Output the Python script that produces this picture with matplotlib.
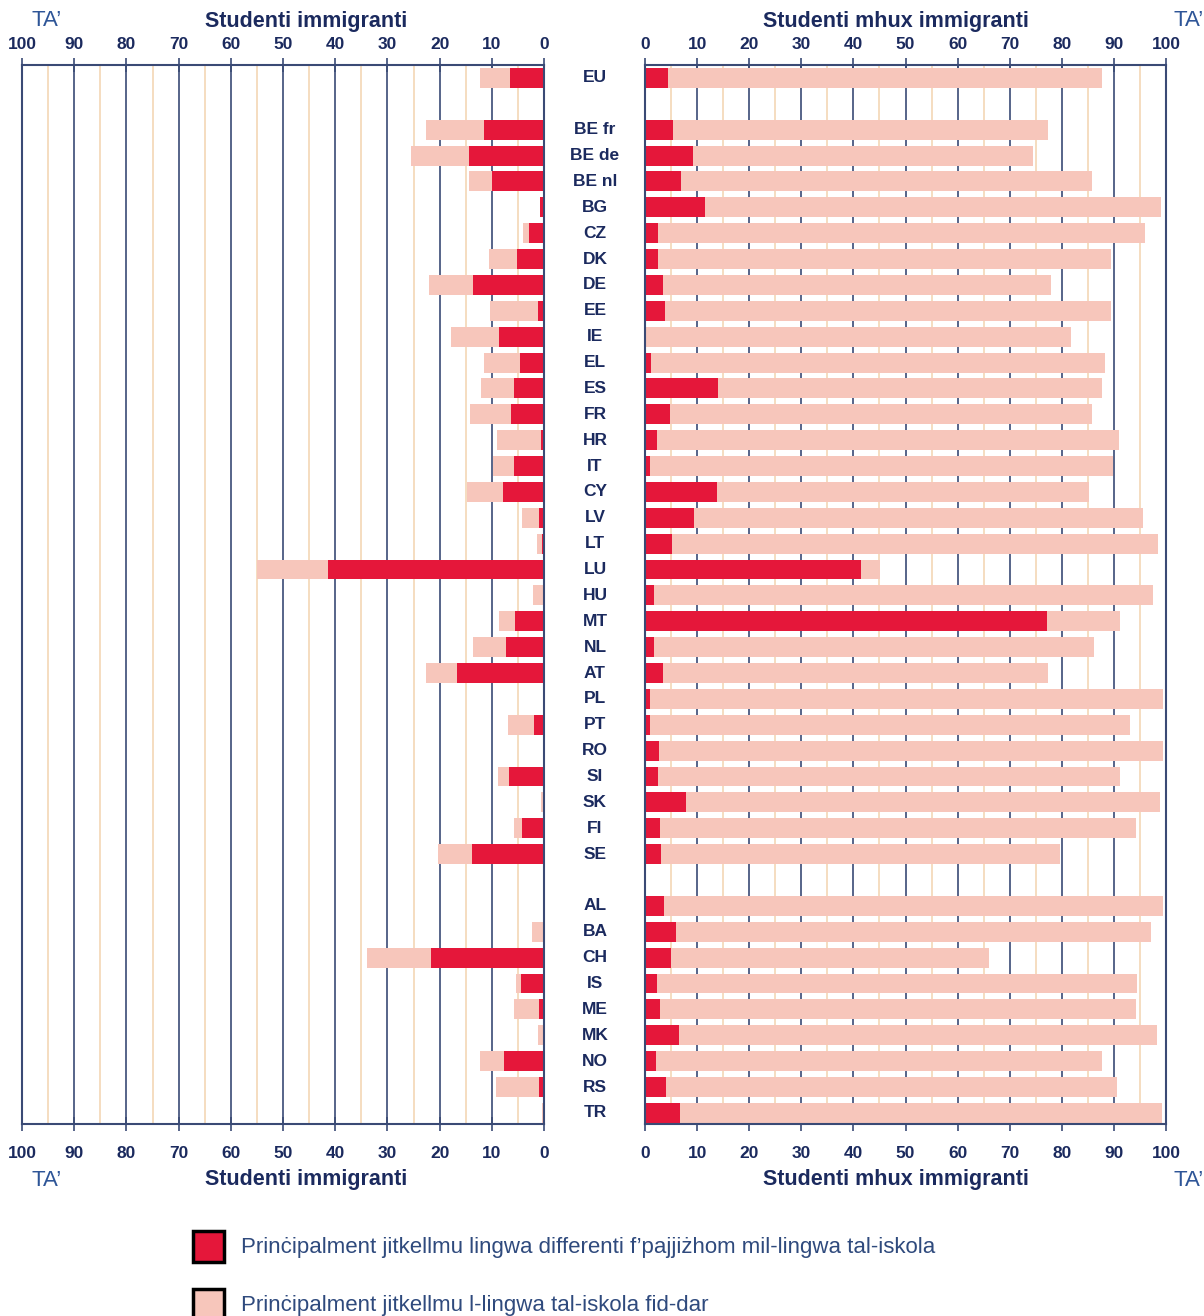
import numpy as np
import matplotlib
matplotlib.use("Agg")
import matplotlib.pyplot as plt
from matplotlib.patches import Rectangle
from matplotlib.transforms import blended_transform_factory

# ---------------- data ----------------
countries = ["EU", "BE fr", "BE de", "BE nl", "BG", "CZ", "DK", "DE", "EE", "IE", "EL", "ES",
             "FR", "HR", "IT", "CY", "LV", "LT", "LU", "HU", "MT", "NL", "AT", "PL", "PT",
             "RO", "SI", "SK", "FI", "SE", "AL", "BA", "CH", "IS", "ME", "MK", "NO", "RS", "TR"]

# immigrant students (left panel)
imm_other = [6.5, 11.5, 14.4, 10.0, 0.8, 2.9, 5.2, 13.6, 1.1, 8.6, 4.6, 5.7,
             6.3, 0.6, 5.7, 7.9, 1.0, 0.3, 41.4, 0.0, 5.6, 7.3, 16.7, 0.0, 1.9,
             0.0, 6.7, 0.0, 4.2, 13.8, 0.0, 0.0, 21.6, 4.4, 1.0, 0.0, 7.7, 1.0, 0.0]
imm_school = [5.8, 11.1, 11.1, 4.4, 0.0, 1.1, 5.3, 8.4, 9.2, 9.2, 6.9, 6.3,
              7.9, 8.4, 4.1, 6.9, 3.2, 1.0, 13.6, 2.1, 3.0, 6.3, 5.9, 0.0, 5.0,
              0.0, 2.1, 0.6, 1.5, 6.5, 0.0, 2.3, 12.3, 1.0, 4.7, 1.1, 4.6, 8.2, 0.4]

# non-immigrant students (right panel)
non_other = [4.4, 5.4, 9.2, 6.9, 11.5, 2.5, 2.5, 3.5, 3.8, 0.0, 1.2, 14.0,
             4.8, 2.3, 1.0, 13.8, 9.4, 5.2, 41.5, 1.7, 77.2, 1.7, 3.5, 1.0, 1.0,
             2.7, 2.5, 7.9, 2.9, 3.1, 3.6, 5.9, 5.0, 2.3, 2.9, 6.5, 2.1, 4.0, 6.7]
non_school = [83.3, 72.0, 65.3, 78.9, 87.5, 93.5, 86.9, 74.4, 85.6, 81.8, 87.1, 73.7,
              81.0, 88.7, 88.8, 71.4, 86.2, 93.3, 3.6, 95.8, 14.0, 84.5, 73.9, 98.4, 92.1,
              96.7, 88.7, 90.9, 91.3, 76.6, 95.8, 91.2, 61.0, 92.1, 91.3, 91.8, 85.6, 86.6, 92.5]

ticks = [0, 10, 20, 30, 40, 50, 60, 70, 80, 90, 100]
minor_ticks = [5, 15, 25, 35, 45, 55, 65, 75, 85, 95]

series_names = ["Prinċipalment jitkellmu lingwa differenti f’pajjiżhom mil-lingwa tal-iskola",
                "Prinċipalment jitkellmu l-lingwa tal-iskola fid-dar"]
title_left = "Studenti immigranti"
title_right = "Studenti mhux immigranti"
unit_label = "TA’"

# ---------------- style ----------------
RED = "#E5173A"
PINK = "#F7C6BB"
NAVY = "#1B2A5E"
GRID_DARK = "#3A4A75"
GRID_LIGHT = "#F3D7B5"
BLUE_TXT = "#2E5597"
LEG_TXT = "#2F4A7D"
NARROW = ["Liberation Sans Narrow", "Liberation Sans", "DejaVu Sans"]
SANS = ["Liberation Sans", "DejaVu Sans"]

# positions: blank row after EU and after SE
pos = []
y = 0
for i, c in enumerate(countries):
    pos.append(y)
    y += 1
    if c in ("EU", "SE"):
        y += 1
pos = np.array(pos, dtype=float)
n_rows = pos[-1]

W, H = 1204, 1316
fig = plt.figure(figsize=(W / 100, H / 100), dpi=100)

def fx(px):
    return px / W

def fy(py):
    return 1 - py / H

ax_top, ax_bot = 65, 1124
axL = fig.add_axes([fx(22), fy(ax_bot), fx(544 - 22), (ax_bot - ax_top) / H])
axR = fig.add_axes([fx(645), fy(ax_bot), fx(1166 - 645), (ax_bot - ax_top) / H])

bar_h = 0.77
for ax, other, school, inverted in ((axL, imm_other, imm_school, True),
                                    (axR, non_other, non_school, False)):
    other = np.array(other)
    school = np.array(school)
    for t in ticks[1:-1]:
        ax.axvline(t, color=GRID_DARK, lw=1.2, zorder=0)
    for t in minor_ticks:
        ax.axvline(t, color=GRID_LIGHT, lw=1.2, zorder=0)
    ax.barh(pos, other, height=bar_h, color=RED, zorder=2, linewidth=0)
    ax.barh(pos, school, left=other, height=bar_h, color=PINK, zorder=2, linewidth=0)
    ax.set_ylim(n_rows + 0.43, -0.5)
    if inverted:
        ax.set_xlim(100, 0)
    else:
        ax.set_xlim(0, 100)
    ax.set_yticks([])
    for s in ax.spines.values():
        s.set_color(GRID_DARK)
        s.set_linewidth(1.5)
    ax.set_xticks(ticks)
    ax.set_xticklabels([str(t) for t in ticks])
    ax.tick_params(axis="x", direction="inout", length=10, width=1.2, color=GRID_DARK,
                   pad=11, labelsize=12.5, labelcolor=NAVY)
    for lab in ax.get_xticklabels():
        lab.set_fontweight("bold")
        lab.set_family(NARROW)
    sec = ax.secondary_xaxis("top")
    sec.set_xticks(ticks)
    sec.set_xticklabels([str(t) for t in ticks])
    sec.tick_params(axis="x", direction="inout", length=10, width=1.2, color=GRID_DARK,
                    pad=4, labelsize=12.5, labelcolor=NAVY)
    sec.spines["top"].set_visible(False)
    for lab in sec.get_xticklabels():
        lab.set_fontweight("bold")
        lab.set_family(NARROW)

# country labels between panels
tr = blended_transform_factory(fig.transFigure, axR.transData)
for c, p in zip(countries, pos):
    fig.text(fx(595), p, c, transform=tr, ha="center", va="center", fontsize=12.5,
             fontweight="bold", color=NAVY, family=NARROW)

# titles
for yy in (21, 1180):
    fig.text(fx(306), fy(yy), title_left, ha="center", va="center", fontsize=15.5,
             fontweight="bold", color=NAVY, family=SANS)
    fig.text(fx(896), fy(yy), title_right, ha="center", va="center", fontsize=15.5,
             fontweight="bold", color=NAVY, family=SANS)
    fig.text(fx(47), fy(yy), unit_label, ha="center", va="center", fontsize=16,
             color=BLUE_TXT, family=SANS)
    fig.text(fx(1173), fy(yy), unit_label, ha="left", va="center", fontsize=16,
             color=BLUE_TXT, family=SANS)

# legend
for (top_px, col, name) in ((1231, RED, series_names[0]), (1289, PINK, series_names[1])):
    fig.add_artist(Rectangle((fx(193), fy(top_px + 31)), fx(31), 31 / H,
                             transform=fig.transFigure, facecolor=col,
                             edgecolor="black", linewidth=2.5, clip_on=False))
    fig.text(fx(241), fy(top_px + 16), name, ha="left", va="center", fontsize=16,
             color=LEG_TXT, family=SANS)

fig.savefig("out.png", dpi=100)
